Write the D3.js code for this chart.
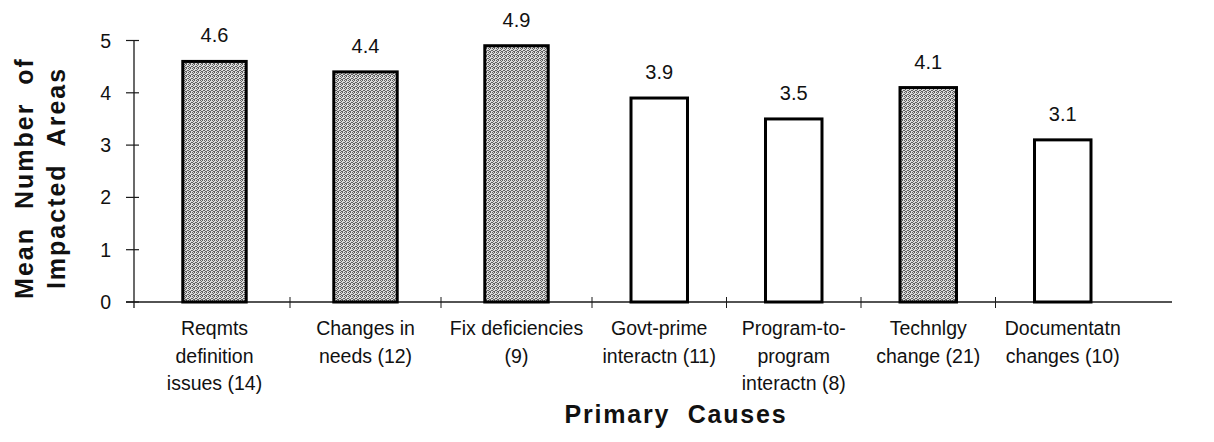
<!DOCTYPE html>
<html>
<head>
<meta charset="utf-8">
<script src="https://cdn.jsdelivr.net/npm/d3@7"></script>
<style>
  html, body { margin: 0; padding: 0; background: #fff; }
  svg { display: block; }
  text { font-family: "Liberation Sans", Arial, Helvetica, sans-serif; fill: #111; }
</style>
</head>
<body>
<svg id="chart" width="1214" height="442"></svg>
<script>
// Primary causes (with case counts) and the mean number of impacted areas
const causes = [
  ["Reqmts", "definition", "issues (14)"],
  ["Changes in", "needs (12)"],
  ["Fix deficiencies", "(9)"],
  ["Govt-prime", "interactn (11)"],
  ["Program-to-", "program", "interactn (8)"],
  ["Technlgy", "change (21)"],
  ["Documentatn", "changes (10)"]
];
const meanAreas = [4.6, 4.4, 4.9, 3.9, 3.5, 4.1, 3.1];
const shaded = [true, true, true, false, false, true, false];
const yTicks = [0, 1, 2, 3, 4, 5];

const svg = d3.select("#chart");

// stippled grey fill for the shaded bars
const defs = svg.append("defs");
const pat = defs.append("pattern")
  .attr("id", "stipple")
  .attr("patternUnits", "userSpaceOnUse")
  .attr("width", 4).attr("height", 4);
pat.append("rect").attr("width", 4).attr("height", 4).attr("fill", "#dcdcdc");
[[0,0],[2,0],[1,1],[3,2],[0,2],[2,3],[1,3]].forEach(([px, py]) => {
  pat.append("rect").attr("x", px).attr("y", py)
    .attr("width", 1).attr("height", 1).attr("fill", "#606060");
});

// category cells: the first three slots are wider than the later four
const n = causes.length;
const xEdge = d3.scaleLinear().domain([0, 3, n]).range([139, 592, 1130]);
const barFrac = 0.42;
const y = d3.scaleLinear().domain([0, 5]).range([302, 40.5]);

const data = causes.map((lines, i) => {
  const x0 = xEdge(i), x1 = xEdge(i + 1);
  const w = (x1 - x0) * barFrac;
  return { lines, value: meanAreas[i], shaded: shaded[i], cx: (x0 + x1) / 2, w };
});

const axisColor = "#1a1a1a";
const axisX = 134;

// y axis line and crossing ticks
svg.append("line")
  .attr("x1", axisX).attr("x2", axisX)
  .attr("y1", y(5)).attr("y2", y(0) + 6)
  .attr("stroke", axisColor).attr("stroke-width", 1.3);
svg.selectAll(".ytick").data(yTicks).join("line")
  .attr("x1", axisX - 8).attr("x2", axisX + 5)
  .attr("y1", d => y(d)).attr("y2", d => y(d))
  .attr("stroke", axisColor).attr("stroke-width", 1.2);
svg.selectAll(".ylab").data(yTicks).join("text")
  .attr("x", axisX - 23).attr("y", d => y(d))
  .attr("dy", "0.36em")
  .attr("text-anchor", "end")
  .attr("font-size", 19.5)
  .text(d => d);

// x axis baseline with category separators
svg.append("line")
  .attr("x1", axisX - 8).attr("x2", 1172)
  .attr("y1", y(0)).attr("y2", y(0))
  .attr("stroke", axisColor).attr("stroke-width", 1.3);
svg.selectAll(".xtick").data(d3.range(1, n)).join("line")
  .attr("x1", d => xEdge(d)).attr("x2", d => xEdge(d))
  .attr("y1", y(0) - 5).attr("y2", y(0) + 6)
  .attr("stroke", axisColor).attr("stroke-width", 1);

// bars
svg.selectAll(".bar").data(data).join("rect")
  .attr("x", d => d.cx - d.w / 2)
  .attr("y", d => y(d.value))
  .attr("width", d => d.w)
  .attr("height", d => y(0) - y(d.value))
  .attr("fill", d => d.shaded ? "url(#stipple)" : "#fff")
  .attr("stroke", "#000")
  .attr("stroke-width", 3);

// value labels above bars
svg.selectAll(".val").data(data).join("text")
  .attr("x", d => d.cx)
  .attr("y", d => y(d.value) - 19)
  .attr("text-anchor", "middle")
  .attr("font-size", 20)
  .text(d => d.value.toFixed(1));

// category labels
const cat = svg.selectAll(".cat").data(data).join("text")
  .attr("text-anchor", "middle")
  .attr("font-size", 19.5);
cat.selectAll("tspan").data(d => d.lines.map(l => ({ l, cx: d.cx })))
  .join("tspan")
  .attr("x", t => t.cx)
  .attr("y", (t, i) => 335 + i * 27.5)
  .text(t => t.l);

// axis titles
svg.append("text")
  .attr("x", 676).attr("y", 423)
  .attr("text-anchor", "middle")
  .attr("font-size", 25).attr("font-weight", "bold")
  .attr("letter-spacing", 1.8)
  .attr("xml:space", "preserve")
  .text("Primary  Causes");

const yt = svg.append("text")
  .attr("transform", "translate(0,178) rotate(-90)")
  .attr("text-anchor", "middle")
  .attr("font-size", 25).attr("font-weight", "bold")
  .attr("letter-spacing", 2)
  .attr("xml:space", "preserve");
yt.append("tspan").attr("x", 0).attr("y", 33).text("Mean  Number  of");
yt.append("tspan").attr("x", 0).attr("y", 65).text("Impacted  Areas");
</script>
</body>
</html>
